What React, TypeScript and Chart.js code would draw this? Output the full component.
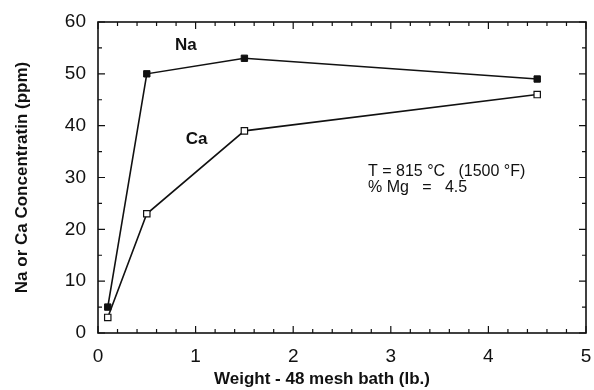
import React, { useEffect, useRef } from 'react';
import { Chart, registerables } from 'chart.js';

Chart.register(...registerables);

const weights = [0.1, 0.5, 1.5, 4.5];
const naConc = [5, 50, 53, 49];
const caConc = [3, 23, 39, 46];
const xMajorTicks = [0, 1, 2, 3, 4, 5];
const yMajorTicks = [0, 10, 20, 30, 40, 50, 60];
const xMinorStep = 0.2;
const yMinorStep = 5;
const xTitle = 'Weight - 48 mesh bath (lb.)';
const yTitle = 'Na or Ca Concentratin (ppm)';
const naLabel = 'Na';
const caLabel = 'Ca';
const noteLine1 = 'T = 815 °C   (1500 °F)';
const noteLine2 = '% Mg   =   4.5';

const FONT = '"Liberation Sans", Arial, sans-serif';

const framePlugin = {
  id: 'framePlugin',
  afterDraw(chart: any) {
    const ctx = chart.ctx;
    const { left, right, top, bottom } = chart.chartArea;
    const xs = chart.scales.x;
    const ys = chart.scales.y;
    ctx.save();
    ctx.strokeStyle = '#111';
    ctx.lineWidth = 1.6;
    ctx.strokeRect(left, top, right - left, bottom - top);
    ctx.lineWidth = 1.2;
    for (let v = xs.min; v <= xs.max + 1e-9; v += xMinorStep) {
      const val = Math.round(v * 10) / 10;
      const px = xs.getPixelForValue(val);
      const major = xMajorTicks.includes(val);
      const len = major ? 7 : 4;
      ctx.beginPath();
      ctx.moveTo(px, bottom);
      ctx.lineTo(px, bottom - len);
      ctx.moveTo(px, top);
      ctx.lineTo(px, top + len);
      ctx.stroke();
    }
    for (let v = ys.min; v <= ys.max + 1e-9; v += yMinorStep) {
      const py = ys.getPixelForValue(v);
      const major = yMajorTicks.includes(v);
      const len = major ? 7 : 4;
      ctx.beginPath();
      ctx.moveTo(left, py);
      ctx.lineTo(left + len, py);
      ctx.moveTo(right, py);
      ctx.lineTo(right - len, py);
      ctx.stroke();
    }
    ctx.fillStyle = '#111';
    ctx.font = `bold 17px ${FONT}`;
    ctx.textAlign = 'center';
    ctx.textBaseline = 'middle';
    ctx.fillText(xTitle, 322, 379);
    ctx.save();
    ctx.translate(22, (top + bottom) / 2);
    ctx.rotate(-Math.PI / 2);
    ctx.fillText(yTitle, 0, 0);
    ctx.restore();
    ctx.font = `bold 17px ${FONT}`;
    ctx.fillText(naLabel, xs.getPixelForValue(0.9), ys.getPixelForValue(55.5));
    ctx.fillText(caLabel, xs.getPixelForValue(1.01), ys.getPixelForValue(37.3));
    ctx.font = `16px ${FONT}`;
    ctx.textAlign = 'left';
    ctx.fillText(noteLine1, 368, 172);
    ctx.fillText(noteLine2, 368, 188);
    ctx.restore();
  },
};

export default function App() {
  const ref = useRef<HTMLCanvasElement | null>(null);
  useEffect(() => {
    if (!ref.current) return;
    const tickFont = { family: FONT, size: 19 };
    const chart = new Chart(ref.current, {
      type: 'scatter',
      data: {
        datasets: [
          {
            label: 'Na',
            data: weights.map((w, i) => ({ x: w, y: naConc[i] })),
            showLine: true,
            borderColor: '#111',
            borderWidth: 1.6,
            backgroundColor: '#111',
            pointStyle: 'rect',
            pointRadius: 4.5,
            pointBorderColor: '#111',
            pointBackgroundColor: '#111',
            pointBorderWidth: 1,
          },
          {
            label: 'Ca',
            data: weights.map((w, i) => ({ x: w, y: caConc[i] })),
            showLine: true,
            borderColor: '#111',
            borderWidth: 1.6,
            backgroundColor: '#fff',
            pointStyle: 'rect',
            pointRadius: 4.5,
            pointBorderColor: '#111',
            pointBackgroundColor: '#fff',
            pointBorderWidth: 1.2,
          },
        ],
      },
      options: {
        responsive: false,
        animation: false,
        layout: { padding: { top: 22, right: 8, left: 0, bottom: 0 } },
        plugins: { legend: { display: false }, tooltip: { enabled: false } },
        scales: {
          x: {
            type: 'linear',
            min: 0,
            max: 5,
            grid: { display: false, drawTicks: false },
            border: { display: false },
            ticks: { stepSize: 1, color: '#111', font: tickFont, padding: 12, maxRotation: 0 },
            afterFit: (s: any) => { s.height = 57; s.paddingLeft = 0; s.paddingRight = 0; },
          },
          y: {
            type: 'linear',
            min: 0,
            max: 60,
            grid: { display: false, drawTicks: false },
            border: { display: false },
            ticks: { stepSize: 10, color: '#111', font: tickFont, padding: 12 },
            afterFit: (s: any) => { s.width = 98; s.paddingTop = 0; s.paddingBottom = 0; },
          },
        },
      },
      plugins: [framePlugin],
    } as any);
    return () => chart.destroy();
  }, []);
  return (
    <div style={{ position: 'fixed', left: 0, top: 0, width: 594, height: 390, background: '#fff' }}>
      <canvas ref={ref} width={594} height={390} />
    </div>
  );
}
